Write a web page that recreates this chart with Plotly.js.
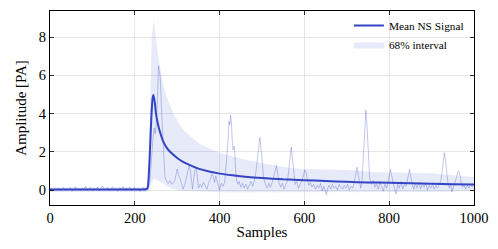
<!DOCTYPE html>
<html><head><meta charset="utf-8">
<script src="https://cdn.plot.ly/plotly-3.0.1.min.js"></script>
<style>html,body{margin:0;padding:0;background:#fff}#c{width:498px;height:249px}</style>
</head><body><div id="c"></div>
<script>
// Mean signal
const meanX = [0,100,200,225,230,233,236,239,242,244,247,250,255,260,267,275,285,300,315,330,350,375,400,430,460,500,550,600,650,700,750,800,850,900,950,1000];
const meanY = [0.03,0.03,0.03,0.04,0.1,0.8,2.2,3.8,4.8,4.97,4.6,4.0,3.4,3.0,2.55,2.22,1.96,1.68,1.46,1.3,1.12,0.97,0.86,0.77,0.70,0.63,0.56,0.52,0.47,0.43,0.40,0.38,0.36,0.33,0.31,0.29];
// 68% interval
const bandX = [0,228,232,236,240,245,250,255,260,267,275,291,314,354,400,430,460,500,566,600,650,700,760,830,900,950,1000];
const bandUpper = [0.14,0.15,0.6,4.0,8.0,8.9,7.9,7.0,6.4,5.5,4.88,4.0,3.14,2.4,1.95,1.75,1.6,1.4,1.15,1.1,1.08,1.05,0.95,0.92,0.88,0.78,0.68];
const bandLower = [-0.1,-0.1,-0.05,0.1,0.4,0.6,0.55,0.5,0.45,0.35,0.2,0.05,-0.05,-0.1,-0.12,-0.12,-0.12,-0.12,-0.12,-0.12,-0.12,-0.12,-0.12,-0.1,-0.1,-0.08,-0.05];
// single signal
const sigX = [0,4,8,12,16,20,24,28,32,36,40,44,48,52,56,60,64,68,72,76,80,84,88,92,96,100,104,108,112,116,120,124,128,132,136,140,144,148,152,156,160,164,168,172,176,180,184,188,192,196,200,204,208,212,216,220,224,228,232,236,240,243,246,248,250,253,256,258,260,263,267,271,275,279,283,287,291,295,298,300,303,306,310,314,318,322,326,328,331,334,336,339,342,345,348,350,354,358,362,366,370,374,378,382,385,388,391,394,397,400,404,408,412,415,418,420,422,424,426,428,430,432,434,436,438,440,443,446,450,454,458,462,466,470,474,478,482,486,489,492,495,498,501,504,508,512,516,520,524,528,531,534,537,540,544,548,552,556,560,563,566,569,572,575,578,582,586,590,594,598,601,604,607,610,614,618,622,626,630,634,638,642,646,650,652,655,658,662,666,670,674,678,682,686,690,694,698,702,706,710,714,718,721,724,727,730,733,736,739,742,745,748,751,754,758,762,766,770,774,778,782,786,790,794,798,801,803,806,809,812,816,820,824,828,832,836,840,843,846,848,851,854,858,862,866,870,874,878,882,886,890,894,898,902,906,910,914,918,922,925,928,930,933,936,939,942,945,948,951,954,958,961,964,967,970,973,976,980,984,988,992,996,1000];
const sigY = [0.02,0.10,-0.03,0.08,0.0,0.12,-0.05,0.06,0.15,-0.02,0.09,0.01,0.13,-0.06,0.05,0.18,0.0,0.08,-0.04,0.11,0.03,0.2,-0.02,0.07,0.14,-0.05,0.1,0.02,0.16,-0.03,0.08,0.21,0.0,0.06,0.13,-0.04,0.09,0.17,0.01,0.07,-0.06,0.12,0.04,0.19,-0.02,0.1,0.03,0.15,-0.05,0.08,0.12,0.0,0.09,-0.07,0.06,0.14,-0.04,0.05,0.1,0.6,1.9,2.7,3.25,2.95,3.3,4.5,6.5,6.1,5.9,4.2,2.1,0.7,0.45,0.35,0.5,0.3,0.4,0.55,0.9,1.1,0.8,0.65,0.35,0.05,0.3,0.7,1.0,1.25,1.05,0.4,0.05,0.6,1.05,1.2,0.7,0.1,0.3,0.15,0.4,0.2,0.05,0.35,0.55,0.85,0.7,0.4,0.75,0.5,0.2,0.0,0.35,0.2,0.4,1.2,1.9,2.6,3.6,3.4,3.9,3.5,2.5,2.1,2.3,1.9,0.9,0.5,0.3,0.45,0.15,0.35,0.1,0.3,0.05,0.25,0.45,0.2,0.5,1.0,1.6,2.4,2.75,2.1,1.2,0.6,0.3,0.1,0.35,0.15,0.4,0.7,1.0,1.3,0.9,0.4,0.15,0.35,0.05,0.3,0.5,1.0,1.8,2.25,1.6,0.7,0.3,0.45,0.1,0.3,0.5,0.8,1.05,0.9,0.5,0.25,0.4,0.15,0.3,0.05,0.25,0.1,0.35,-0.05,0.2,-0.1,-0.25,0.1,0.25,0.05,0.3,0.1,0.2,0.0,0.3,0.15,0.05,0.25,0.1,0.3,0.0,0.2,0.1,0.45,0.9,1.2,0.8,0.35,0.1,0.5,1.6,3.0,4.18,3.2,1.5,0.6,0.3,0.5,0.15,0.35,0.05,0.4,0.2,-0.05,0.3,0.1,0.5,0.9,1.08,0.75,0.35,0.1,-0.2,0.3,0.1,0.45,0.05,0.3,0.2,0.6,1.0,1.08,0.7,0.3,0.05,0.35,0.1,0.4,0.05,0.3,0.15,0.35,0.0,0.25,0.1,0.3,0.05,0.25,0.1,0.3,0.5,1.0,1.7,1.95,1.5,0.8,0.3,0.1,0.35,-0.1,0.2,0.35,0.6,0.9,1.0,0.8,0.35,0.15,0.3,0.05,0.25,0.1,0.3,0.15,0.25];
const xTicks = [0,200,400,600,800,1000];
const yTicks = [0,2,4,6,8];

const BLUE = '#3444c4';
const FONT = '"Liberation Serif", "Times New Roman", Times, serif';
const traces = [
  {x: bandX, y: bandLower, mode: 'lines', line: {width: 0, color: 'rgba(0,0,0,0)'}, showlegend: false, hoverinfo: 'skip'},
  {x: bandX, y: bandUpper, mode: 'lines', fill: 'tonexty', fillcolor: 'rgba(60,80,200,0.12)', line: {width: 0, color: 'rgba(0,0,0,0)'}, name: '68% interval', legendrank: 2},
  {x: sigX, y: sigY, mode: 'lines', line: {width: 0.7, color: 'rgba(60,80,200,0.45)'}, showlegend: false},
  {x: meanX, y: meanY, mode: 'lines', line: {width: 2, color: BLUE, shape: 'spline', smoothing: 0.6}, name: 'Mean NS Signal', legendrank: 1}
];
const axisCommon = {
  showline: true, linecolor: '#000', linewidth: 1, mirror: 'ticks',
  ticks: 'inside', ticklen: 4, tickcolor: '#000', tickwidth: 0.8,
  showgrid: true, gridcolor: '#e6e6e6', gridwidth: 1, zeroline: false,
  tickfont: {family: FONT, size: 14.5, color: '#000'}
};
const layout = {
  width: 498, height: 249,
  margin: {l: 50, r: 24, t: 11, b: 44},
  paper_bgcolor: '#fff', plot_bgcolor: '#fff',
  font: {family: FONT, color: '#000'},
  xaxis: Object.assign({}, axisCommon, {range: [0, 1000], tickvals: xTicks, ticktext: xTicks.map(String),
    title: {text: 'Samples', font: {family: FONT, size: 15, color: '#000'}, standoff: 1}}),
  yaxis: Object.assign({}, axisCommon, {range: [-0.78, 9.36], tickvals: yTicks, ticktext: yTicks.map(String),
    title: {text: 'Amplitude [PA]', font: {family: FONT, size: 15, color: '#000'}, standoff: 8}}),
  legend: {x: 0.705, y: 1.0, xanchor: 'left', yanchor: 'top', bgcolor: 'rgba(255,255,255,0)',
    traceorder: 'normal', font: {family: FONT, size: 11.3, color: '#000'}, tracegroupgap: 0, itemwidth: 30},
  showlegend: true
};
Plotly.newPlot('c', traces, layout, {displayModeBar: false, staticPlot: true});
</script>
</body></html>
